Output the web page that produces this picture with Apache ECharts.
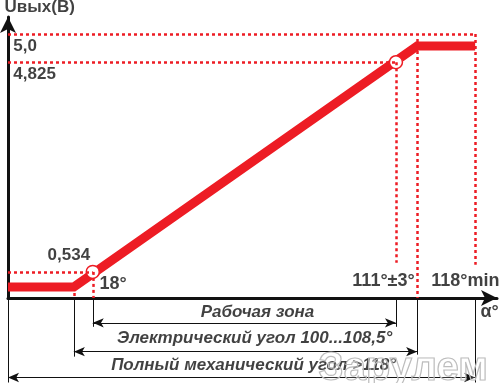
<!DOCTYPE html>
<html><head><meta charset="utf-8">
<script src="https://cdn.jsdelivr.net/npm/echarts@6/dist/echarts.min.js"></script>
<style>html,body{margin:0;padding:0;background:#fff}#c{width:500px;height:383px}</style>
</head><body><div id="c"></div>
<script>
// Schematic angle positions (x) and output voltage (y)
const curveX = [-8, 12.2, 117.5, 135.3];
const curveY = [0.225, 0.225, 5.157, 5.157];
const pointX = [18, 111];
const pointY = [0.534, 4.825];
const level5Y = 5.40;          // schematic position of the 5,0 V guide
const xStart = -8, xElec = 12.2, xEnd = 117.5, xMech = 135.3;
const yLabels = ['5,0', '4,825', '0,534'];
const xLabels = ['18°', '111°±3°', '118°min', 'α°'];
const dimLabels = ['Рабочая зона', 'Электрический угол 100...108,5°', 'Полный механический угол >118°'];
const axisTitle = 'Uвых(В)';

const RED = '#ed1c24';
const FONT = "'Liberation Sans', Arial, sans-serif";
const dot = { type: [3, 3], width: 2.5, color: RED };
const thin = { type: 'solid', width: 1, color: '#111' };

function seg(a, b, style, sym) {
  return [{ coord: a, symbol: sym ? 'arrow' : 'none', lineStyle: style }, { coord: b, symbol: sym ? 'arrow' : 'none' }];
}

const guides = [
  seg([xStart, level5Y], [xMech, level5Y], dot),
  seg([xMech, level5Y], [xMech, 0.68], dot),
  seg([xStart, pointY[1]], [pointX[1], pointY[1]], dot),
  seg([pointX[1], pointY[1]], [pointX[1], 0.72], dot),
  seg([xEnd, 5.30], [xEnd, 0], dot),
  seg([xStart, pointY[0]], [pointX[0], pointY[0]], dot),
  seg([pointX[0], pointY[0]], [pointX[0], 0], dot),
  seg([xElec, curveY[0]], [xElec, 0], dot)
];
// lower dimension area (second grid, y from 0 down)
const dims = [
  seg([pointX[0], 0], [pointX[0], -0.593], thin),
  seg([pointX[1], 0], [pointX[1], -0.593], thin),
  seg([xElec, 0], [xElec, -1.207], thin),
  seg([xEnd, 0], [xEnd, -1.166], thin),
  seg([xMech, 0], [xMech, -1.74], thin),
  seg([xStart, 0], [xStart, -1.74], thin),
  seg([pointX[0], -0.512], [pointX[1], -0.512], thin, true),
  seg([xElec, -1.105], [xEnd, -1.105], thin, true),
  seg([xStart, -1.637], [xMech, -1.637], thin, true)
];

function txt(x, y, s, align, size, italic) {
  return { value: [x, y], name: s, label: { align: align, fontSize: size, fontStyle: italic ? 'italic' : 'normal' } };
}
const textsTop = [
  txt(-8.9, 5.93, axisTitle, 'left', 17),
  txt(-6.2, 5.136, yLabels[0], 'left', 17),
  txt(-6.2, 4.563, yLabels[1], 'left', 17),
  txt(4.3, 0.859, yLabels[2], 'left', 17),
  txt(20.2, 0.266, xLabels[0], 'left', 18),
  txt(116.9, 0.327, xLabels[1], 'right', 18),
  txt(122.0, 0.327, xLabels[2], 'left', 18)
];
const textsBottom = [
  txt(137.1, -0.307, xLabels[3], 'left', 18),
  txt(68.7, -0.307, dimLabels[0], 'center', 17, true),
  txt(67.8, -0.839, dimLabels[1], 'center', 17, true),
  txt(67.5, -1.39, dimLabels[2], 'center', 17, true)
];

const hiddenAxis = { axisLine: { show: false }, axisTick: { show: false }, axisLabel: { show: false }, splitLine: { show: false } };
const labelStyle = { show: true, position: [0, 0], verticalAlign: 'middle', color: '#111', fontWeight: 'bold', fontFamily: FONT, formatter: p => p.name };

const chart = echarts.init(document.getElementById('c'), null, { renderer: 'canvas' });
chart.setOption({
  animation: false,
  backgroundColor: '#fff',
  grid: [
    { left: 8, right: 3, top: 17, bottom: 85, containLabel: false },
    { left: 8, right: 3, top: 298, bottom: 0, containLabel: false }
  ],
  xAxis: [{
    type: 'value', min: -8, max: 142, gridIndex: 0,
    axisLine: { show: true, onZero: false, symbol: ['none', 'arrow'], symbolSize: [12, 16], lineStyle: { color: '#111', width: 3 } },
    axisTick: { show: false }, axisLabel: { show: false }, splitLine: { show: false }
  }, Object.assign({ type: 'value', min: -8, max: 142, gridIndex: 1 }, hiddenAxis)],
  yAxis: [{
    type: 'value', min: 0, max: 5.75, gridIndex: 0,
    axisLine: { show: true, onZero: false, symbol: ['none', 'arrow'], symbolSize: [12, 16], lineStyle: { color: '#111', width: 3 } },
    axisTick: { show: false }, axisLabel: { show: false }, splitLine: { show: false }
  }, Object.assign({ type: 'value', min: -1.75, max: 0, gridIndex: 1 }, hiddenAxis)],
  graphic: [{
    type: 'text', left: 318, top: 348, z: 100, silent: true,
    style: { text: 'Зарулем', font: 'bold 40px ' + FONT, fill: 'rgba(255,255,255,0.15)', stroke: '#b8b8b8', lineWidth: 1.2 }
  }],
  series: [
    {
      type: 'line', clip: false, silent: true, symbol: 'none', z: 1, xAxisIndex: 0, yAxisIndex: 0,
      data: [],
      markLine: { silent: true, animation: false, label: { show: false }, symbolSize: [7, 10], data: guides }
    },
    {
      type: 'line', clip: false, silent: true, symbol: 'none', z: 1, xAxisIndex: 1, yAxisIndex: 1,
      data: [],
      markLine: { silent: true, animation: false, label: { show: false }, symbolSize: [7, 11], data: dims }
    },
    {
      type: 'line', silent: true, symbol: 'none', z: 3, xAxisIndex: 0, yAxisIndex: 0,
      lineStyle: { color: RED, width: 9, join: 'miter' },
      data: curveX.map((x, i) => [x, curveY[i]])
    },
    {
      type: 'scatter', silent: true, z: 4, symbolSize: 13, xAxisIndex: 0, yAxisIndex: 0,
      itemStyle: { color: '#fff', borderColor: RED, borderWidth: 1.5, opacity: 1 },
      data: pointX.map((x, i) => [x, pointY[i]])
    },
    {
      type: 'scatter', silent: true, clip: false, z: 5, symbolSize: 1, xAxisIndex: 0, yAxisIndex: 0,
      itemStyle: { color: 'rgba(0,0,0,0)' }, label: labelStyle, data: textsTop
    },
    {
      type: 'scatter', silent: true, clip: false, z: 5, symbolSize: 1, xAxisIndex: 1, yAxisIndex: 1,
      itemStyle: { color: 'rgba(0,0,0,0)' }, label: labelStyle, data: textsBottom
    }
  ]
});
</script></body></html>
